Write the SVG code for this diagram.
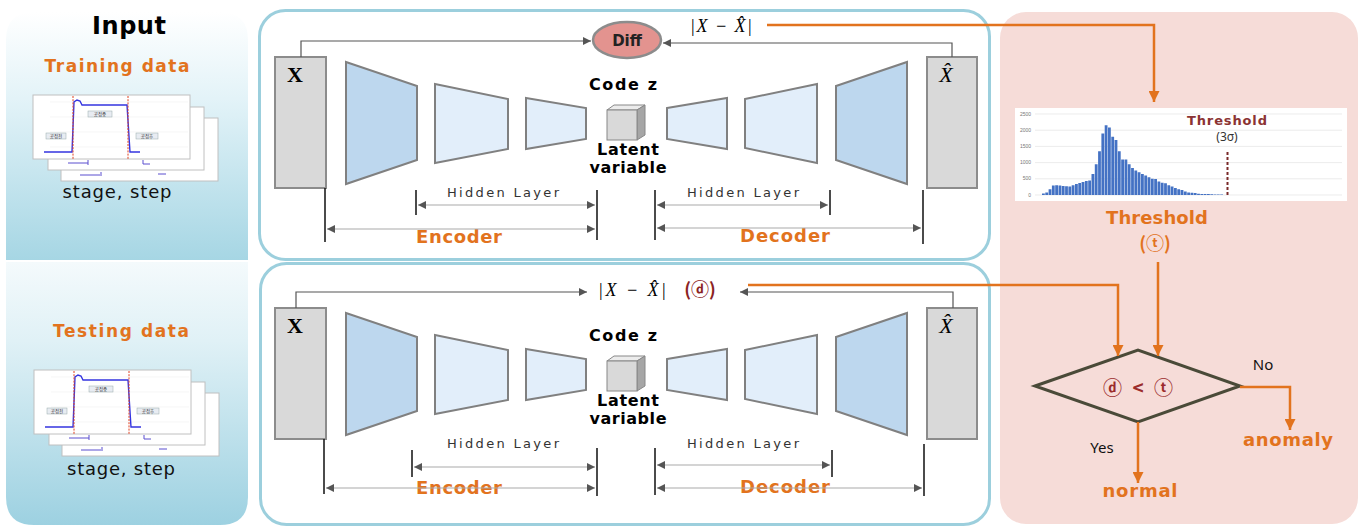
<svg xmlns="http://www.w3.org/2000/svg" xmlns:xlink="http://www.w3.org/1999/xlink" width="1369" height="527" viewBox="0 0 1369 527">
<style>
.bold{font-family:"DejaVu Sans","Noto Sans",sans-serif;font-weight:bold}
.reg{font-family:"Noto Sans","Open Sans",sans-serif}
.dv{font-family:"DejaVu Sans",sans-serif}
.or{fill:#e2731e}
.hid{font-family:"DejaVu Sans",sans-serif;font-size:13px;fill:#333}
.box{fill:#d9d9d9;stroke:#8c8c8c;stroke-width:2}
.t1{fill:#bdd7ee;stroke:#808080;stroke-width:2}
.t2{fill:#e2eefa;stroke:#808080;stroke-width:2}
.gl{fill:none;stroke:#555;stroke-width:1.2}
.dl{fill:none;stroke:#aaa;stroke-width:1.2}
.tick{fill:none;stroke:#111;stroke-width:1.5}
.ol{fill:none;stroke:#e2731e;stroke-width:2.5}
.card{fill:#fff;stroke:#c0c0c0;stroke-width:1}
.lab{fill:#e8ecf2;stroke:#9aa;stroke-width:.5}
.kt{font-family:"Noto Sans CJK KR",sans-serif;font-size:4.5px;fill:#333}
.serif{font-family:"Liberation Serif","DejaVu Serif",serif}
.circ{font-family:"Noto Sans CJK KR","DejaVu Sans",sans-serif}
</style>
<defs>
<linearGradient id="gTop" x1="0" y1="0" x2="0" y2="1"><stop offset="0" stop-color="#ffffff"/><stop offset="0.35" stop-color="#e3f3f8"/><stop offset="1" stop-color="#a6d6e4"/></linearGradient>
<linearGradient id="gBot" x1="0" y1="0" x2="0" y2="1"><stop offset="0" stop-color="#f4fafc"/><stop offset="0.3" stop-color="#e0f1f6"/><stop offset="1" stop-color="#9dd1e1"/></linearGradient>
<marker id="ag" viewBox="0 0 10 10" refX="10" refY="5" markerWidth="10" markerHeight="8" markerUnits="userSpaceOnUse" orient="auto-start-reverse"><path d="M0,0 L10,5 L0,10 z" fill="#555"/></marker>
<marker id="ao" viewBox="0 0 10 10" refX="10" refY="5" markerWidth="11" markerHeight="11" markerUnits="userSpaceOnUse" orient="auto"><path d="M0,0 L10,5 L0,10 z" fill="#e2731e"/></marker>
<g id="thumb">
<rect class="card" x="61" y="118" width="157" height="63"/>
<rect class="card" x="48" y="107" width="156" height="63"/>
<rect class="card" x="33" y="95" width="157" height="64"/>
<path d="M80 175 H100 M101 172 V176 M158 174 H166" stroke="#5a4fcf" stroke-width="1" fill="none"/>
<path d="M68 163 H88 M88 160 V165 M143 160 V164 H150" stroke="#5a4fcf" stroke-width="1" fill="none"/>
<path d="M50 102 H188 M50 117 H188 M50 132 H188 M50 147 H188" stroke="#f0f0f0" stroke-width=".6"/>
<path d="M44 152 H72 L74 102 L77 100 L80 101 L82 105 H127 L130 152 H140" stroke="#3434e0" stroke-width="1.4" fill="none"/>
<path d="M73 96 V159 M128 96 V159" stroke="#e04020" stroke-width="1" stroke-dasharray="2,1.2"/>
<rect class="lab" x="46" y="133" width="20" height="6"/>
<text class="kt" x="56" y="137.8" text-anchor="middle">공정전</text>
<rect class="lab" x="88" y="111" width="24" height="6"/>
<text class="kt" x="100" y="115.8" text-anchor="middle">공정중</text>
<rect class="lab" x="136" y="133" width="22" height="6"/>
<text class="kt" x="147" y="137.8" text-anchor="middle">공정후</text>
</g>
<g id="net">
<rect class="box" x="275" y="57" width="51" height="131"/>
<text class="serif" x="295" y="82" font-size="22" font-weight="bold" text-anchor="middle">X</text>
<polygon class="t1" points="346,62 417,86 417,160 346,184"/>
<polygon class="t2" points="435,84 508,99 508,149 435,163"/>
<polygon class="t2" points="526,98 586,108 586,139 526,149"/>
<polygon points="607,110 614,105 645,105 637,110" fill="#ececec" stroke="#888" stroke-width="1"/>
<polygon points="637,110 645,105 645,135 637,140" fill="#a6a6a6" stroke="#888" stroke-width="1"/>
<rect x="607" y="110" width="30" height="30" fill="#d9d9d9" stroke="#888" stroke-width="1"/>
<text class="bold" x="623" y="90" font-size="16" text-anchor="middle" textLength="68" lengthAdjust="spacing">Code z</text>
<text class="bold" x="628" y="155" font-size="16" text-anchor="middle" textLength="62" lengthAdjust="spacing">Latent</text>
<text class="bold" x="628" y="173" font-size="16" text-anchor="middle" textLength="77" lengthAdjust="spacing">variable</text>
<polygon class="t2" points="667,108 727,98 727,149 667,139"/>
<polygon class="t2" points="745,99 817,84 817,163 745,148"/>
<polygon class="t1" points="836,86 907,62 907,184 836,160"/>
<rect class="box" x="927" y="57" width="50" height="131"/>
<text class="serif" x="946" y="82" font-size="22" font-style="italic" text-anchor="middle">X&#770;</text>
<text class="hid" x="503" y="197" text-anchor="middle" textLength="112" lengthAdjust="spacing">Hidden Layer</text>
<text class="hid" x="743" y="197" text-anchor="middle" textLength="112" lengthAdjust="spacing">Hidden Layer</text>
<text class="bold or" x="459" y="243" font-size="18" text-anchor="middle" textLength="86" lengthAdjust="spacing">Encoder</text>
<text class="bold or" x="785" y="242" font-size="18" text-anchor="middle" textLength="90" lengthAdjust="spacing">Decoder</text>
</g>
</defs>

<g id="input-top">
<path d="M6,260 V40 Q6,12 34,12 H220 Q248,12 248,40 V260 Z" fill="url(#gTop)"/>
<text class="bold" x="129" y="34" font-size="24" text-anchor="middle" textLength="74" lengthAdjust="spacing">Input</text>
<text class="bold or" x="117" y="72" font-size="17" text-anchor="middle" textLength="145" lengthAdjust="spacing">Training data</text>
<use href="#thumb"/>
<text class="dv" x="117" y="198" font-size="18" fill="#111" text-anchor="middle" textLength="109" lengthAdjust="spacing">stage, step</text>
</g>
<g id="input-bottom">
<path d="M6,262 H248 V497 Q248,525 220,525 H34 Q6,525 6,497 Z" fill="url(#gBot)"/>
<text class="bold or" x="121" y="337" font-size="17" text-anchor="middle" textLength="136" lengthAdjust="spacing">Testing data</text>
<use href="#thumb" transform="translate(1,275)"/>
<text class="dv" x="121" y="475" font-size="18" fill="#111" text-anchor="middle" textLength="108" lengthAdjust="spacing">stage, step</text>
</g>

<g id="training-panel">
<rect x="259.5" y="10.5" width="730" height="249" rx="26" fill="#fff" stroke="#9ccfdd" stroke-width="3"/>
<use href="#net"/>
</g>
<g id="diff">
<ellipse cx="627" cy="40" rx="34" ry="18" fill="#e3938f" stroke="#8c8c8c" stroke-width="2.5"/>
<text class="bold" x="627" y="46" font-size="15" fill="#222" text-anchor="middle">Diff</text>
</g>
<g id="recon-error-top">
<text class="serif" x="721" y="32" font-size="18" font-style="italic" text-anchor="middle" textLength="62" lengthAdjust="spacing">|X − X&#770;|</text>
</g>

<g id="testing-panel">
<rect x="260.5" y="263.5" width="729" height="261" rx="26" fill="#fff" stroke="#9ccfdd" stroke-width="3"/>
<use href="#net" transform="translate(0,251)"/>
</g>
<g id="recon-error-bottom">
<text class="serif" x="632" y="296" font-size="18" font-style="italic" text-anchor="middle" textLength="68" lengthAdjust="spacing">|X − X&#770;|</text>
<text class="circ" x="700" y="296" font-size="18" font-weight="bold" fill="#8b2323" text-anchor="middle">(ⓓ)</text>
</g>

<g id="decision-panel">
<rect x="1000" y="12" width="358" height="512" rx="26" fill="#f6dcd8"/>
</g>
<g id="histogram">
<rect x="1015" y="108" width="332" height="93" fill="#fff"/>
<path d="M1035 114 H1342 M1035 130.2 H1342 M1035 146.4 H1342 M1035 162.6 H1342 M1035 178.8 H1342 M1035 195 H1342" stroke="#e4e4e4" stroke-width=".7"/>
<g font-family="Liberation Sans,sans-serif" font-size="5" fill="#777" text-anchor="end">
<text x="1031" y="116">2500</text><text x="1031" y="132">2000</text><text x="1031" y="148">1500</text><text x="1031" y="164">1000</text><text x="1031" y="180">500</text><text x="1031" y="197">0</text>
</g>
<path fill="#4472c4" d="M1042 195v-1.6h2.8v1.6zM1045.3 195v-2.6h2.8v2.6zM1048.6 195v-5.8h2.8v5.8zM1051.9 195v-9.4h2.8v9.4zM1055.2 195v-9.7h2.8v9.7zM1058.5 195v-9.4h2.8v9.4zM1061.8 195v-9.1h2.8v9.1zM1065.1 195v-8.7h2.8v8.7zM1068.4 195v-8.4h2.8v8.4zM1071.7 195v-9.7h2.8v9.7zM1075 195v-11h2.8v11zM1078.3 195v-12h2.8v12zM1081.6 195v-13h2.8v13zM1084.9 195v-13.9h2.8v13.9zM1088.2 195v-14.6h2.8v14.6zM1091.5 195v-21.1h2.8v21.1zM1094.8 195v-30.8h2.8v30.8zM1098.1 195v-43.7h2.8v43.7zM1101.4 195v-61.6h2.8v61.6zM1104.7 195v-69.7h2.8v69.7zM1108 195v-67.4h2.8v67.4zM1111.3 195v-58.3h2.8v58.3zM1114.6 195v-55.1h2.8v55.1zM1117.9 195v-43.7h2.8v43.7zM1121.2 195v-35.6h2.8v35.6zM1124.5 195v-35.6h2.8v35.6zM1127.8 195v-30.8h2.8v30.8zM1131.1 195v-26.9h2.8v26.9zM1134.4 195v-24.6h2.8v24.6zM1137.7 195v-22.7h2.8v22.7zM1141 195v-21.1h2.8v21.1zM1144.3 195v-19.4h2.8v19.4zM1147.6 195v-17.8h2.8v17.8zM1150.9 195v-16.2h2.8v16.2zM1154.2 195v-15.9h2.8v15.9zM1157.5 195v-13.6h2.8v13.6zM1160.8 195v-12.3h2.8v12.3zM1164.1 195v-11.7h2.8v11.7zM1167.4 195v-9.7h2.8v9.7zM1170.7 195v-8.4h2.8v8.4zM1174 195v-7.1h2.8v7.1zM1177.3 195v-5.8h2.8v5.8zM1180.6 195v-4.9h2.8v4.9zM1183.9 195v-3.6h2.8v3.6zM1187.2 195v-2.6h2.8v2.6zM1190.5 195v-2.3h2.8v2.3zM1193.8 195v-1.9h2.8v1.9zM1197.1 195v-1.3h2.8v1.3zM1200.4 195v-1h2.8v1zM1203.7 195v-1h2.8v1zM1207 195v-1h2.8v1zM1210.3 195v-.8h2.8v.8zM1213.6 195v-.6h2.8v.6zM1216.9 195v-.5h2.8v.5zM1220.2 195v-.4h2.8v.4z"/>
<path d="M1227.5 152 V195" stroke="#7a2a2a" stroke-width="2" stroke-dasharray="3,2"/>
<text class="bold" x="1227" y="125" font-size="13" fill="#8b3333" text-anchor="middle" textLength="80" lengthAdjust="spacing">Threshold</text>
<text class="reg" x="1227" y="141" font-size="12" fill="#333" text-anchor="middle">(3σ)</text>
</g>
<g id="threshold-label">
<text class="bold or" x="1157" y="224" font-size="18" text-anchor="middle" textLength="102" lengthAdjust="spacing">Threshold</text>
<text class="bold or circ" x="1155" y="250" font-size="18" text-anchor="middle">(ⓣ)</text>
</g>
<g id="decision">
<polygon points="1035,386 1138,350 1240,386 1138,422" fill="none" stroke="#4a4a38" stroke-width="3"/>
<text class="circ" x="1138" y="395" font-size="19" font-weight="bold" fill="#9b2c2c" text-anchor="middle" textLength="70" lengthAdjust="spacing">ⓓ &lt; ⓣ</text>
</g>
<g id="labels">
<text class="reg" x="1263" y="370" font-size="15" fill="#111" text-anchor="middle">No</text>
<text class="reg" x="1102" y="453" font-size="15" fill="#111" text-anchor="middle">Yes</text>
</g>
<g id="anomaly"><text class="bold or" x="1288" y="446" font-size="18" text-anchor="middle" textLength="90" lengthAdjust="spacing">anomaly</text></g>
<g id="normal"><text class="bold or" x="1140" y="497" font-size="18" text-anchor="middle" textLength="75" lengthAdjust="spacing">normal</text></g>

<g id="connectors">
<path class="gl" d="M301 57 V41 H591" marker-end="url(#ag)"/>
<path class="gl" d="M952 57 V43 H663" marker-end="url(#ag)"/>
<path class="gl" d="M296 308 V292 H587" marker-end="url(#ag)"/>
<path class="gl" d="M953 308 V292 H740" marker-end="url(#ag)"/>
<path class="tick" d="M325 188 V242 M416 190 V215 M597 190 V240 M655 190 V240 M830 190 V215 M923 190 V244"/>
<path class="dl" d="M418 205 H595" marker-start="url(#ag)" marker-end="url(#ag)"/>
<path class="dl" d="M327 229 H595" marker-start="url(#ag)" marker-end="url(#ag)"/>
<path class="dl" d="M657 205 H828" marker-start="url(#ag)" marker-end="url(#ag)"/>
<path class="dl" d="M657 228 H921" marker-start="url(#ag)" marker-end="url(#ag)"/>
<path class="tick" d="M324 439 V494 M412 450 V477 M597 448 V496 M655 448 V495 M832 450 V477 M924 444 V496"/>
<path class="dl" d="M414 467 H595" marker-start="url(#ag)" marker-end="url(#ag)"/>
<path class="dl" d="M326 488 H595" marker-start="url(#ag)" marker-end="url(#ag)"/>
<path class="dl" d="M657 465 H830" marker-start="url(#ag)" marker-end="url(#ag)"/>
<path class="dl" d="M657 488 H922" marker-start="url(#ag)" marker-end="url(#ag)"/>
<path class="ol" d="M767 25 H1154 V102" marker-end="url(#ao)"/>
<path class="ol" d="M748 285 H1118 V356" marker-end="url(#ao)"/>
<path class="ol" d="M1158 262 V356" marker-end="url(#ao)"/>
<path class="ol" d="M1240 387 H1290 V430" marker-end="url(#ao)"/>
<path class="ol" d="M1138 422 V483" marker-end="url(#ao)"/>
</g>
</svg>
